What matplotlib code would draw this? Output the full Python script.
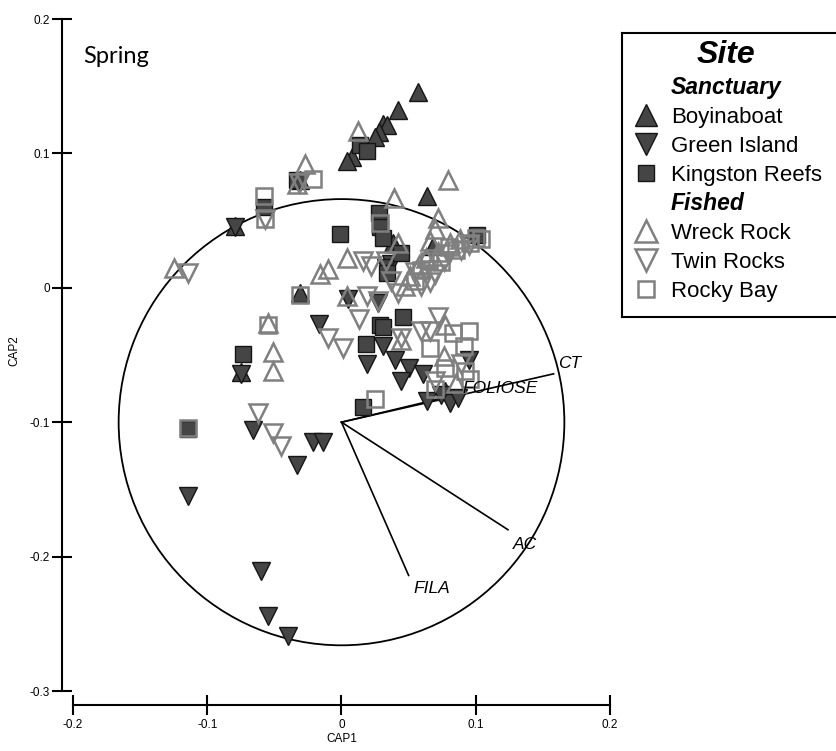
import matplotlib
matplotlib.use("Agg")
import matplotlib.pyplot as plt
from matplotlib.patches import Circle

plt.rcParams['font.family'] = ['Liberation Sans', 'DejaVu Sans']

# CAP scores, spring survey
boy_x = [0.057, 0.042, 0.031, 0.034, 0.028, 0.025, 0.008, 0.004, 0.064, -0.079,
         -0.031, -0.075, -0.031, 0.038, 0.068, 0.077]
boy_y = [0.146, 0.132, 0.122, 0.121, 0.116, 0.112, 0.097, 0.094, 0.068, 0.046,
         0.080, -0.063, -0.004, 0.033, 0.031, -0.077]

green_x = [-0.079, -0.017, 0.019, 0.040, 0.050, 0.044, 0.061, 0.064, 0.081, 0.087,
           0.095, -0.066, -0.033, -0.021, -0.014, -0.114, -0.060, -0.055, -0.040,
           -0.075, 0.037, 0.033, 0.005, 0.027, -0.031, 0.031, 0.074]
green_y = [0.045, -0.027, -0.057, -0.054, -0.060, -0.069, -0.064, -0.084, -0.086, -0.082,
           -0.054, -0.106, -0.132, -0.115, -0.115, -0.155, -0.211, -0.244, -0.259,
           -0.064, 0.018, 0.015, -0.008, -0.011, 0.079, -0.043, -0.080]

king_x = [-0.001, 0.028, 0.029, 0.031, 0.014, 0.019, -0.033, -0.058, -0.073, 0.018,
          0.029, 0.046, 0.031, 0.016, -0.114, 0.034, 0.044, 0.101]
king_y = [0.040, 0.056, 0.045, 0.037, 0.106, 0.102, 0.080, 0.060, -0.049, -0.042,
          -0.028, -0.022, -0.029, -0.089, -0.105, 0.011, 0.026, 0.039]

wreck_x = [0.012, -0.027, -0.033, 0.039, 0.079, 0.072, -0.016, -0.010, 0.004, 0.004,
           -0.125, -0.051, -0.051, -0.055, 0.077, 0.076, 0.070, 0.066, 0.042, 0.051,
           0.063, 0.081, 0.044, 0.085, 0.058, 0.072, 0.088, 0.047]
wreck_y = [0.117, 0.092, 0.077, 0.067, 0.080, 0.052, 0.010, 0.014, 0.022, -0.006,
           0.015, -0.048, -0.062, -0.026, -0.028, -0.051, 0.044, 0.035, 0.033, 0.009,
           0.022, 0.033, -0.039, -0.071, 0.017, 0.027, 0.036, 0.001]

twin_x = [0.016, 0.022, 0.013, 0.001, -0.010, 0.019, 0.027, -0.062, -0.051, -0.045,
          -0.057, -0.114, 0.072, 0.066, 0.044, 0.037, 0.042, 0.059, 0.066, 0.076,
          0.089, 0.070, 0.089, 0.059, 0.033, 0.063, -0.032, 0.055, 0.070, 0.080,
          0.095]
twin_y = [0.020, 0.016, -0.023, -0.045, -0.037, -0.006, -0.010, -0.093, -0.108, -0.118,
          0.051, 0.011, -0.022, -0.032, -0.037, 0.005, -0.004, 0.001, 0.004, 0.020,
          0.028, -0.069, -0.057, -0.032, 0.020, 0.013, 0.078, 0.012, 0.010, 0.025,
          0.032]

rocky_x = [-0.058, -0.021, 0.029, 0.083, 0.095, 0.066, 0.077, 0.070, 0.091, 0.092,
           0.096, 0.025, -0.114, -0.031, 0.104, 0.096, 0.085, 0.074, 0.059, 0.055,
           -0.055, -0.057, 0.065, 0.080, 0.100]
rocky_y = [0.068, 0.081, 0.048, -0.034, -0.032, -0.045, -0.060, -0.075, -0.043, -0.062,
           -0.068, -0.083, -0.104, -0.005, 0.036, 0.033, 0.028, 0.019, 0.013, 0.005,
           -0.028, 0.051, 0.020, 0.030, 0.037]

# vector overlay (origin at circle centre)
vec_names = ['CT', 'FOLIOSE', 'AC', 'FILA']
vec_x = [0.158, 0.088, 0.124, 0.050]
vec_y = [-0.064, -0.079, -0.180, -0.214]
origin = (0.0, -0.1)
radius = 0.166

xticks = [-0.2, -0.1, 0, 0.1, 0.2]
xtick_labels = ['-0.2', '-0.1', '0', '0.1', '0.2']
yticks = [-0.3, -0.2, -0.1, 0, 0.1, 0.2]
ytick_labels = ['-0.3', '-0.2', '-0.1', '0', '0.1', '0.2']

W, H = 837, 751
fig = plt.figure(figsize=(W / 100, H / 100), dpi=100)
ax = fig.add_axes([73 / W, 60 / H, 537 / W, 672 / H])

filled = dict(linestyle='none', markerfacecolor='#454545', markeredgecolor='#151515',
              markeredgewidth=1.0, clip_on=False)
hollow = dict(linestyle='none', markerfacecolor='none', markeredgecolor='#808080',
              markeredgewidth=1.8, clip_on=False)

ax.add_patch(Circle(origin, radius, fill=False, ec='black', lw=1.3, clip_on=False))
label_off = {'CT': (3, 4), 'FOLIOSE': (2, 1), 'AC': (3.6, -13.7), 'FILA': (3.6, -13)}
for name, ex, ey in zip(vec_names, vec_x, vec_y):
    ax.plot([origin[0], ex], [origin[1], ey], color='black', lw=1.2)
    ax.annotate(name, (ex, ey), xytext=label_off[name], textcoords='offset points',
                fontsize=12.5, style='italic', va='baseline', ha='left')

ax.plot(boy_x, boy_y, marker='^', markersize=13.5, **filled)
ax.plot(green_x, green_y, marker='v', markersize=13.5, **filled)
ax.plot(king_x, king_y, marker='s', markersize=11.5, **filled)
ax.plot(wreck_x, wreck_y, marker='^', markersize=13.5, **hollow)
ax.plot(twin_x, twin_y, marker='v', markersize=13.5, **hollow)
ax.plot(rocky_x, rocky_y, marker='s', markersize=11.5, **hollow)

ax.set_xlim(-0.2, 0.2)
ax.set_ylim(-0.3, 0.2)
for s in ['top', 'right']:
    ax.spines[s].set_visible(False)
ax.spines['left'].set_position(('outward', 7.9))
ax.spines['bottom'].set_position(('outward', 10.1))
for s in ['left', 'bottom']:
    ax.spines[s].set_linewidth(1.5)
ax.set_xticks(xticks)
ax.set_xticklabels(xtick_labels)
ax.set_yticks(yticks)
ax.set_yticklabels(ytick_labels)
ax.tick_params(axis='both', direction='inout', length=14, width=1.5, labelsize=8.5)
ax.tick_params(axis='y', pad=1.5)
ax.tick_params(axis='x', pad=3)
ax.set_xlabel('CAP1', fontsize=8.5)
ax.xaxis.set_label_coords(0.5, -0.0625)
ax.set_ylabel('CAP2', fontsize=8.5)
ax.yaxis.set_label_coords(-0.0987, 0.507)

fig.text(83 / W, 1 - 63 / H, 'Spring', family=['Lato', 'DejaVu Sans'], fontsize=17,
         va='baseline')

# legend box, laid out in pixels relative to its top-left corner
bx0, by0, bx1, by1 = 622, 33, 850, 317
leg = fig.add_axes([bx0 / W, 1 - by1 / H, (bx1 - bx0) / W, (by1 - by0) / H])
leg.set_xlim(0, bx1 - bx0)
leg.set_ylim(by1 - by0, 0)
leg.set_xticks([])
leg.set_yticks([])
for s in leg.spines.values():
    s.set_linewidth(1.5)
leg.text(104, 22, 'Site', fontsize=23, weight='bold', style='italic',
         ha='center', va='center')
rows = [('Sanctuary', None), ('Boyinaboat', ('^', 16, filled)),
        ('Green Island', ('v', 16, filled)), ('Kingston Reefs', ('s', 12, filled)),
        ('Fished', None), ('Wreck Rock', ('^', 16, hollow)),
        ('Twin Rocks', ('v', 16, hollow)), ('Rocky Bay', ('s', 12, hollow))]
for i, (label, mk) in enumerate(rows):
    base = 94 - by0 + 29 * i
    if mk is None:
        leg.text(49, base, label, fontsize=16.5, weight='bold', style='italic',
                 va='baseline')
    else:
        m, ms, st = mk
        st = dict(st, clip_on=True)
        if st['markerfacecolor'] == 'none':
            st['markerfacecolor'] = 'white'
        leg.plot([24], [base - 8], marker=m, markersize=ms, **st)
        leg.text(49, base, label, fontsize=16, va='baseline')

fig.savefig('out.png', dpi=100)
